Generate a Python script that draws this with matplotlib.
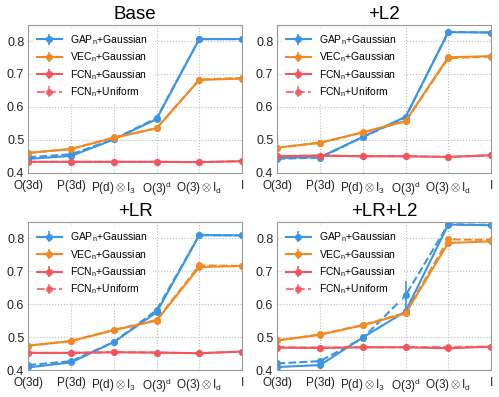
import matplotlib
matplotlib.use("Agg")
import matplotlib.pyplot as plt

plt.rcParams['font.family'] = ['Liberation Sans', 'DejaVu Sans']
plt.rcParams['mathtext.fontset'] = 'custom'
plt.rcParams['mathtext.rm'] = 'Liberation Sans'
plt.rcParams['mathtext.it'] = 'Liberation Sans:italic'

# x categories
categories = ['O(3d)', 'P(3d)', r'$\mathrm{P(d)}\otimes\mathrm{I}_3$', r'$\mathrm{O(3)}^\mathrm{d}$',
              r'$\mathrm{O(3)}\otimes\mathrm{I}_\mathrm{d}$', 'I']
titles = ['Base', '+L2', '+LR', '+LR+L2']

# Base
base_gap_g = [0.442, 0.451, 0.501, 0.563, 0.806, 0.806]
base_gap_u = [0.447, 0.456, 0.502, 0.566, 0.806, 0.806]
base_vec_g = [0.460, 0.472, 0.506, 0.535, 0.682, 0.686]
base_vec_u = [0.460, 0.472, 0.507, 0.535, 0.683, 0.688]
base_fcn_g = [0.433, 0.433, 0.433, 0.433, 0.432, 0.435]
base_fcn_u = [0.433, 0.433, 0.433, 0.433, 0.432, 0.435]

# +L2
l2_gap_g = [0.445, 0.447, 0.509, 0.570, 0.827, 0.826]
l2_gap_u = [0.442, 0.446, 0.508, 0.568, 0.828, 0.826]
l2_vec_g = [0.476, 0.491, 0.523, 0.557, 0.751, 0.754]
l2_vec_u = [0.476, 0.491, 0.522, 0.556, 0.748, 0.753]
l2_fcn_g = [0.450, 0.452, 0.450, 0.450, 0.448, 0.453]
l2_fcn_u = [0.451, 0.452, 0.450, 0.450, 0.448, 0.453]

# +LR
lr_gap_g = [0.408, 0.423, 0.485, 0.575, 0.810, 0.809]
lr_gap_u = [0.415, 0.427, 0.485, 0.582, 0.810, 0.809]
lr_vec_g = [0.474, 0.488, 0.521, 0.550, 0.713, 0.716]
lr_vec_u = [0.474, 0.488, 0.522, 0.552, 0.718, 0.716]
lr_fcn_g = [0.452, 0.452, 0.454, 0.453, 0.451, 0.456]
lr_fcn_u = [0.452, 0.452, 0.454, 0.453, 0.451, 0.456]

# +LR+L2
lrl2_gap_g = [0.409, 0.415, 0.499, 0.578, 0.842, 0.840]
lrl2_gap_u = [0.420, 0.427, 0.497, 0.627, 0.843, 0.841]
lrl2_vec_g = [0.490, 0.507, 0.536, 0.572, 0.786, 0.791]
lrl2_vec_u = [0.490, 0.508, 0.537, 0.574, 0.797, 0.795]
lrl2_fcn_g = [0.468, 0.467, 0.469, 0.469, 0.466, 0.471]
lrl2_fcn_u = [0.469, 0.468, 0.469, 0.469, 0.470, 0.471]

# error bars (mostly tiny)
small_err = [0.004] * 6
lrl2_gap_u_err = [0.004, 0.004, 0.004, 0.043, 0.004, 0.004]

panels = [
    (base_gap_g, base_gap_u, base_vec_g, base_vec_u, base_fcn_g, base_fcn_u, small_err),
    (l2_gap_g, l2_gap_u, l2_vec_g, l2_vec_u, l2_fcn_g, l2_fcn_u, small_err),
    (lr_gap_g, lr_gap_u, lr_vec_g, lr_vec_u, lr_fcn_g, lr_fcn_u, small_err),
    (lrl2_gap_g, lrl2_gap_u, lrl2_vec_g, lrl2_vec_u, lrl2_fcn_g, lrl2_fcn_u, lrl2_gap_u_err),
]

BLUE = '#3a95e2'
ORANGE = '#f08a24'
RED = '#f2555d'

fig = plt.figure(figsize=(4.99, 3.97), dpi=100)
positions = [
    [0.057, 0.565, 0.428, 0.373],
    [0.556, 0.565, 0.428, 0.373],
    [0.057, 0.068, 0.428, 0.373],
    [0.556, 0.068, 0.428, 0.373],
]

x = list(range(len(categories)))
for i, (gg, gu, vg, vu, fg, fu, gu_err) in enumerate(panels):
    ax = fig.add_axes(positions[i])
    kw = dict(marker='o', markersize=4, linewidth=1.5, elinewidth=1.2, capsize=0)
    # uniform (dashed) versions drawn first
    ax.errorbar(x, gu, yerr=gu_err, color=BLUE, linestyle='--', **kw)
    ax.errorbar(x, vu, yerr=small_err, color=ORANGE, linestyle='--', **kw)
    h1 = ax.errorbar(x, gg, yerr=small_err, color=BLUE, linestyle='-', label=r'GAP$_\mathrm{n}$+Gaussian', **kw)
    h2 = ax.errorbar(x, vg, yerr=small_err, color=ORANGE, linestyle='-', label=r'VEC$_\mathrm{n}$+Gaussian', **kw)
    h3 = ax.errorbar(x, fg, yerr=small_err, color=RED, linestyle='-', label=r'FCN$_\mathrm{n}$+Gaussian', **kw)
    h4 = ax.errorbar(x, fu, yerr=small_err, color=RED, linestyle='--', alpha=0.8, label=r'FCN$_\mathrm{n}$+Uniform', **kw)

    ax.set_xlim(0, 5)
    ax.set_ylim(0.4, 0.85)
    ax.set_yticks([0.4, 0.5, 0.6, 0.7, 0.8])
    ax.set_xticks(x)
    ax.set_xticklabels(categories)
    ax.tick_params(axis='y', length=0, labelsize=9, pad=3, colors='#222222')
    ax.tick_params(axis='x', length=0, labelsize=8.5, pad=5, colors='#222222')
    ax.grid(True, linestyle=':', color='#bbbbbb', linewidth=0.8)
    for s in ax.spines.values():
        s.set_color('#999999')
    ax.set_title(titles[i], fontsize=13.5, pad=4)
    ax.legend(handles=[h1, h2, h3, h4], loc='upper left', fontsize=7.5,
              frameon=True, framealpha=1, edgecolor='white',
              handlelength=2.4, borderaxespad=0.4, labelspacing=0.35)

plt.savefig('out.png', dpi=100)
